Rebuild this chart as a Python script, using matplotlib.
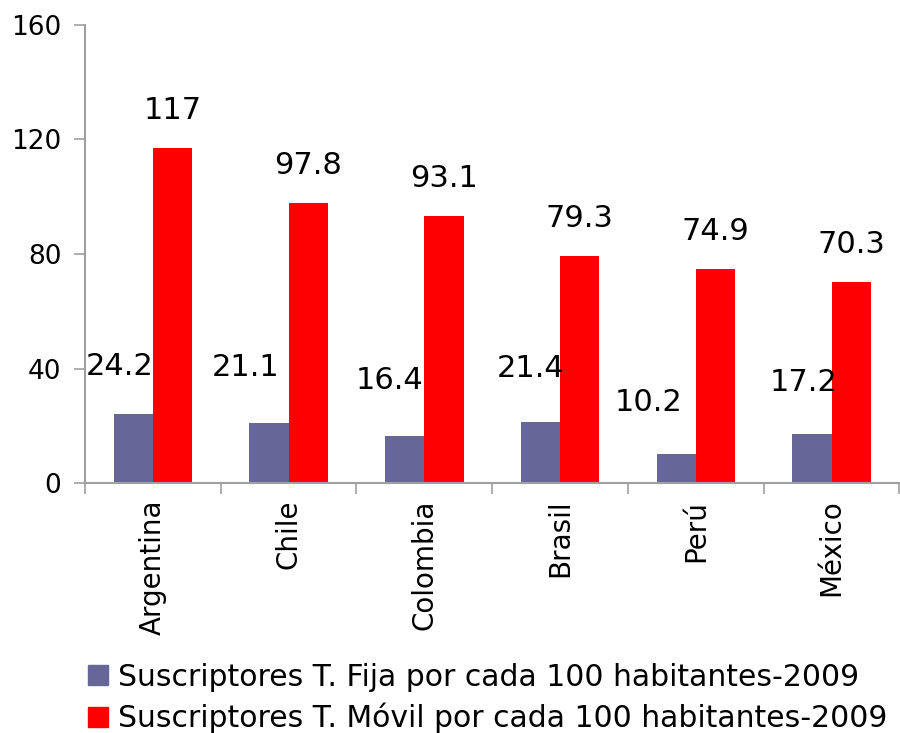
import matplotlib
matplotlib.use("Agg")
import matplotlib.pyplot as plt
from matplotlib.lines import Line2D
import numpy as np

# data
paises = ["Argentina", "Chile", "Colombia", "Brasil", "Perú", "México"]
fija = [24.2, 21.1, 16.4, 21.4, 10.2, 17.2]
movil = [117, 97.8, 93.1, 79.3, 74.9, 70.3]
serie_fija = "Suscriptores T. Fija por cada 100 habitantes-2009"
serie_movil = "Suscriptores T. Móvil por cada 100 habitantes-2009"
y_ticks = [0, 40, 80, 120, 160]

# label offsets (points) for the fija labels, which sit a bit off in the original
fija_dx = [-10, -17, -11, -7, -20, -6]
fija_dy = [34, 40, 40, 38, 37, 37]

COL_FIJA = "#666699"
COL_MOVIL = "#FF0000"
GRIS = "#A0A0A0"

plt.rcParams["font.family"] = ["DejaVu Sans"]

fig = plt.figure(figsize=(9, 7.33), dpi=100)
ax = fig.add_axes([0.0944, 0.341, 0.905, 0.625])

x = np.arange(len(paises))
w = 0.289
ax.bar(x - w / 2, fija, w, color=COL_FIJA, label=serie_fija)
ax.bar(x + w / 2, movil, w, color=COL_MOVIL, label=serie_movil)

for i in range(len(paises)):
    ax.annotate(f"{fija[i]:g}", (x[i] - w / 2, fija[i]),
                xytext=(fija_dx[i], fija_dy[i]), textcoords="offset points",
                ha="center", va="center", fontsize=22)
    ax.annotate(f"{movil[i]:g}", (x[i] + w / 2, movil[i]),
                xytext=(0, 27), textcoords="offset points",
                ha="center", va="center", fontsize=22)

ax.set_xlim(-0.5, len(paises) - 0.5)
ax.set_ylim(0, 160)
ax.set_yticks(y_ticks)
ax.tick_params(axis="y", labelsize=19, length=8, width=1.2, color=GRIS, pad=9)

ax.set_xticks(x)
ax.set_xticklabels(paises, rotation=90, fontsize=20)
ax.tick_params(axis="x", which="major", length=0, pad=12)
ax.set_xticks(np.arange(len(paises) + 1) - 0.5, minor=True)
ax.tick_params(axis="x", which="minor", length=8, width=1.2, color=GRIS)

for s in ["top", "right"]:
    ax.spines[s].set_visible(False)
for s in ["left", "bottom"]:
    ax.spines[s].set_color(GRIS)
    ax.spines[s].set_linewidth(1.5)

handles = [Line2D([], [], marker="s", linestyle="none", markersize=15, color=COL_FIJA),
           Line2D([], [], marker="s", linestyle="none", markersize=15, color=COL_MOVIL)]
fig.legend(handles, [serie_fija, serie_movil], loc="upper left",
           bbox_to_anchor=(0.081, 0.116), frameon=False, fontsize=21.5,
           handlelength=0.7, handletextpad=0.3, labelspacing=0.36, borderpad=0)

fig.savefig("out.png", dpi=100)
